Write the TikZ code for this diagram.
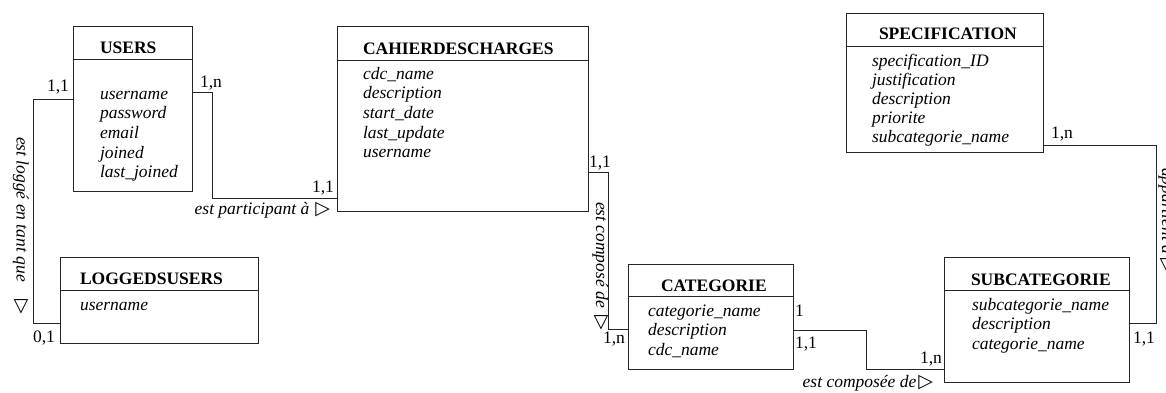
\documentclass[tikz,border=0pt]{standalone}
\usepackage{fontspec}
\setmainfont{Liberation Serif}
\newfontfamily\symfont{DejaVu Sans}
\newcommand{\tri}{{\symfont\fontsize{19}{19}\selectfont ▷}}
\begin{document}
\begin{tikzpicture}[x=1pt,y=-1pt,
  every node/.style={inner sep=0pt, outer sep=0pt},
  ent/.style={draw, line width=0.8pt, anchor=north west, draw=black!85},
  hdr/.style={line width=0.8pt, draw=black!85},
  ttl/.style={font=\fontsize{17.5}{19.6}\selectfont\bfseries, anchor=base west},
  attr/.style={font=\fontsize{17.5}{19.6}\selectfont\itshape, anchor=base west},
  card/.style={font=\fontsize{17.5}{19.6}\selectfont, anchor=base west},
  rel/.style={font=\fontsize{17.5}{19.6}\selectfont\itshape, anchor=base west},
  conn/.style={line width=0.8pt, draw=black!85}]
\useasboundingbox (0,0) rectangle (1166,392);
% entities
\node[ent, minimum width=119pt, minimum height=165pt] (U) at (73,26) {};
\draw[hdr] ([yshift=-33pt]U.north west) -- ([yshift=-33pt]U.north east);
\node[ent, minimum width=251pt, minimum height=185pt] (C) at (337,26) {};
\draw[hdr] ([yshift=-34pt]C.north west) -- ([yshift=-34pt]C.north east);
\node[ent, minimum width=197pt, minimum height=139pt] (S) at (846,13) {};
\draw[hdr] ([yshift=-33pt]S.north west) -- ([yshift=-33pt]S.north east);
\node[ent, minimum width=198pt, minimum height=86pt] (L) at (60,257) {};
\draw[hdr] ([yshift=-33pt]L.north west) -- ([yshift=-33pt]L.north east);
\node[ent, minimum width=165pt, minimum height=105pt] (K) at (628,264) {};
\draw[hdr] ([yshift=-32pt]K.north west) -- ([yshift=-32pt]K.north east);
\node[ent, minimum width=185pt, minimum height=125pt] (B) at (944,257) {};
\draw[hdr] ([yshift=-33pt]B.north west) -- ([yshift=-33pt]B.north east);
% titles
\node[ttl] (Ut) at (100,53) {USERS};
\node[ttl] (Ct) at (363,54) {CAHIERDESCHARGES};
\node[ttl] (St) at (879,39) {SPECIFICATION};
\node[ttl] (Lt) at (80,284) {LOGGEDSUSERS};
\node[ttl] (Kt) at (661,291) {CATEGORIE};
\node[ttl] (Bt) at (971,285) {SUBCATEGORIE};
% attributes
\foreach \t [count=\i from 0] in {username,password,email,joined,last\_joined}
  \node[attr] (Ua\i) at (100,{99+19.7*\i}) {\t};
\foreach \t [count=\i from 0] in {cdc\_name,description,start\_date,last\_update,username}
  \node[attr] (Ca\i) at (363,{79+19.7*\i}) {\t};
\foreach \t [count=\i from 0] in {specification\_ID,justification,description,priorite,subcategorie\_name}
  \node[attr] (Sa\i) at (872,{66+19*\i}) {\t};
\node[attr] (La0) at (80,310) {username};
\foreach \t [count=\i from 0] in {categorie\_name,description,cdc\_name}
  \node[attr] (Ka\i) at (648,{316+19.5*\i}) {\t};
\foreach \t [count=\i from 0] in {subcategorie\_name,description,categorie\_name}
  \node[attr] (Ba\i) at (972,{310+19.5*\i}) {\t};
% cardinalities
\node[card] (c1) at (47,91) {1,1};
\node[card] (c2) at (200,87) {1,n};
\node[card] (c3) at (312,192) {1,1};
\node[card] (c4) at (589,167) {1,1};
\node[card] (c5) at (603,343) {1,n};
\node[card] (c6) at (795,316) {1};
\node[card] (c7) at (795,348) {1,1};
\node[card] (c8) at (920,363) {1,n};
\node[card] (c9) at (1133,343) {1,1};
\node[card] (c10) at (1051,138) {1,n};
\node[card] (c11) at (33,342) {0,1};
% connectors
\coordinate (p1) at (33,99);  \coordinate (p2) at (33,323);
\draw[conn] (U.west |- p1) -- (p1) -- (p2) -- (L.west |- p2);
\coordinate (q1) at (212,92); \coordinate (q2) at (212,198);
\draw[conn] (U.east |- q1) -- (q1) -- (q2) -- (C.west |- q2);
\coordinate (r1) at (608,172); \coordinate (r2) at (608,329);
\draw[conn] (C.east |- r1) -- (r1) -- (r2) -- (K.west |- r2);
\coordinate (s1) at (866,330); \coordinate (s2) at (866,369);
\draw[conn] (K.east |- s1) -- (s1) -- (s2) -- (B.west |- s2);
\coordinate (t1) at (1156,323); \coordinate (t2) at (1156,145);
\draw[conn] (B.east |- t1) -- (t1) -- (t2) -- (S.east |- t2);
% relation labels
\node[rel, rotate=-90] (r_log) at (16.5,137) {est loggé en tant que\hspace{18pt}\tri};
\node[rel, anchor=base east] (r_part) at (330,214) {est participant à\hspace{6pt}\tri};
\node[rel, rotate=-90] (r_comp) at (596,202) {est composé de\hspace{8pt}\tri};
\node[rel, anchor=base east] (r_comp2) at (933,387) {est composée de\hspace{2pt}\tri};
\node[rel, rotate=-90] (r_app) at (1162,168) {appartient à\hspace{4pt}\tri};
\end{tikzpicture}
\end{document}
